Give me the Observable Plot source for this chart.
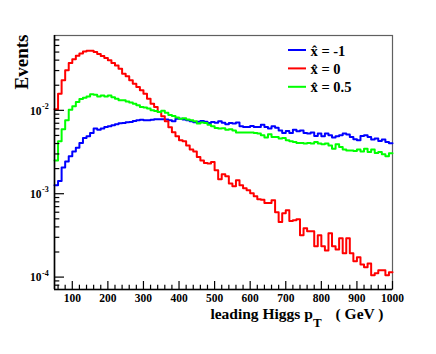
<!DOCTYPE html>
<html>
<head>
<meta charset="utf-8">
<script src="https://cdn.jsdelivr.net/npm/d3@7"></script>
<script src="https://cdn.jsdelivr.net/npm/@observablehq/plot@0.6"></script>
<style>
  html, body { margin: 0; padding: 0; background: white; }
</style>
</head>
<body>
<div id="chart"></div>
<script>
// ---- data ----
const binLow = d3.range(50, 1000, 10); // 95 bins, 10 GeV wide, 50..1000 GeV
const binEnd = 1000;
const seriesNames = ["x\u0302 = -1", "x\u0302 = 0", "x\u0302 = 0.5"];
const seriesColors = ["#0000ff", "#ff0000", "#00ff00"];

const blue = [
  0.00126, 0.00142, 0.00207, 0.00244, 0.00281, 0.00322, 0.00357, 0.00406, 0.00466, 0.00488,
  0.00535, 0.00604, 0.00587, 0.00604, 0.00631, 0.00643, 0.00661, 0.00679, 0.00698, 0.00705,
  0.00718, 0.00724, 0.00745, 0.00759, 0.00769, 0.00759, 0.00759, 0.00769, 0.00780, 0.00780,
  0.00780, 0.00775, 0.00759, 0.00738, 0.00795, 0.00791, 0.00775, 0.00759, 0.00738, 0.00718,
  0.00728, 0.00745, 0.00728, 0.00705, 0.00724, 0.00708, 0.00738, 0.00708, 0.00679, 0.00705,
  0.00693, 0.00713, 0.00643, 0.00631, 0.00631, 0.00649, 0.00631, 0.00631, 0.00674, 0.00631,
  0.00604, 0.00643, 0.00617, 0.00575, 0.00535, 0.00565, 0.00535, 0.00587, 0.00560, 0.00575,
  0.00535, 0.00526, 0.00541, 0.00492, 0.00526, 0.00488, 0.00526, 0.00501, 0.00471, 0.00488,
  0.00501, 0.00526, 0.00512, 0.00479, 0.00449, 0.00437, 0.00492, 0.00501, 0.00479, 0.00446,
  0.00458, 0.00429, 0.00446, 0.00417, 0.00402
];
const red = [
  0.0103, 0.0158, 0.0229, 0.0302, 0.0369, 0.0409, 0.0453, 0.0479, 0.0509, 0.0520,
  0.0520, 0.0500, 0.0473, 0.0448, 0.0424, 0.0398, 0.0369, 0.0344, 0.0316, 0.0275,
  0.0256, 0.0229, 0.0209, 0.0190, 0.0174, 0.0158, 0.0138, 0.0120, 0.0110, 0.00955,
  0.00847, 0.00738, 0.00625, 0.00545, 0.00488, 0.00437, 0.00425, 0.00380, 0.00340, 0.00322,
  0.00275, 0.00251, 0.00233, 0.00231, 0.00240, 0.00191, 0.00149, 0.00171, 0.00162, 0.00133,
  0.00123, 0.00145, 0.00126, 0.00116, 0.00110, 0.00101, 0.000931, 0.000857, 0.000845, 0.000773,
  0.000773, 0.000834, 0.000598, 0.000458, 0.000582, 0.000632, 0.000471, 0.000480, 0.000493, 0.000317,
  0.000385, 0.000354, 0.000354, 0.000234, 0.000317, 0.000234, 0.000209, 0.000335, 0.000234, 0.000215,
  0.000292, 0.000193, 0.000292, 0.000193, 0.000155, 0.000173, 0.000142, 0.000131, 0.000146, 0.000105,
  0.000111, 0.000121, 0.000121, 0.000105, 0.000114
];
const green = [
  0.00251, 0.00425, 0.00592, 0.00759, 0.0102, 0.0112, 0.0126, 0.0137, 0.0142, 0.0147,
  0.0156, 0.0154, 0.0147, 0.0151, 0.0147, 0.0151, 0.0144, 0.0138, 0.0132, 0.0132,
  0.0128, 0.0124, 0.0120, 0.0115, 0.0110, 0.0108, 0.0105, 0.0100, 0.00981, 0.00955,
  0.00986, 0.00933, 0.00879, 0.00855, 0.00818, 0.00795, 0.00802, 0.00775, 0.00759, 0.00738,
  0.00693, 0.00713, 0.00705, 0.00674, 0.00643, 0.00614, 0.00604, 0.00608, 0.00587, 0.00592,
  0.00575, 0.00541, 0.00541, 0.00541, 0.00541, 0.00541, 0.00535, 0.00526, 0.00501, 0.00471,
  0.00516, 0.00479, 0.00479, 0.00458, 0.00466, 0.00437, 0.00425, 0.00417, 0.00406, 0.00406,
  0.00399, 0.00406, 0.00399, 0.00417, 0.00399, 0.00391, 0.00399, 0.00380, 0.00347, 0.00391,
  0.00363, 0.00338, 0.00331, 0.00331, 0.00325, 0.00338, 0.00322, 0.00347, 0.00316, 0.00338,
  0.00308, 0.00316, 0.00297, 0.00281, 0.00305
];

const xMajor = [100, 200, 300, 400, 500, 600, 700, 800, 900, 1000];
const xMinor = d3.range(60, 1000, 20).filter(v => v % 100 !== 0);
const yMajor = [1e-4, 1e-3, 1e-2];
const yMinor = [8e-5, 9e-5,
  2e-4, 3e-4, 4e-4, 5e-4, 6e-4, 7e-4, 8e-4, 9e-4,
  2e-3, 3e-3, 4e-3, 5e-3, 6e-3, 7e-3, 8e-3, 9e-3,
  2e-2, 3e-2, 4e-2, 5e-2, 6e-2, 7e-2];
const xDomain = [50, 1000];
const yDomain = [7.1e-5, 0.079];

// ---- build rows for step histograms ----
const seriesValues = [blue, red, green];
const rows = [];
seriesValues.forEach((vals, s) => {
  vals.forEach((v, i) => rows.push({x: binLow[i], y: v, s: seriesNames[s]}));
  rows.push({x: binEnd, y: vals[vals.length - 1], s: seriesNames[s]});
});

const W = 436, H = 354, mL = 54, mR = 44, mT = 35, mB = 65;
const plotW = W - mL - mR, plotH = H - mT - mB;
const serif = "'Liberation Serif', 'Times New Roman', serif";

const legendMarks = seriesNames.map((name, i) =>
  Plot.text([name], {
    text: d => d, frameAnchor: "top-left", textAnchor: "start", lineAnchor: "middle",
    dx: 256, dy: 15.5 + i * 18.4, fontSize: 14.5, fill: "black"
  })
);

const chart = Plot.plot({
  width: W, height: H,
  marginLeft: mL, marginRight: mR, marginTop: mT, marginBottom: mB,
  style: {background: "white", fontFamily: serif, fontWeight: "bold", fontSize: "11.5px", color: "black"},
  x: {domain: xDomain, axis: null},
  y: {type: "log", domain: yDomain, axis: null},
  color: {domain: seriesNames, range: seriesColors},
  marks: [
    Plot.frame({stroke: "#606060", strokeWidth: 1.2}),
    Plot.line(rows, {x: "x", y: "y", z: "s", stroke: "s", curve: "step-after", strokeWidth: 2}),
    Plot.ruleX([xDomain[0]], {stroke: "black", strokeWidth: 1.6}),
    Plot.ruleY([yDomain[0]], {stroke: "black", strokeWidth: 1.6}),
    Plot.tickX(xMajor, {x: d => d, insetTop: plotH - 8, stroke: "black", strokeWidth: 1.2}),
    Plot.tickX(xMinor, {x: d => d, insetTop: plotH - 4.3, stroke: "black", strokeWidth: 1.2}),
    Plot.tickY(yMajor, {y: d => d, insetRight: plotW - 10, stroke: "black", strokeWidth: 1.2}),
    Plot.tickY(yMinor, {y: d => d, insetRight: plotW - 5.3, stroke: "black", strokeWidth: 1.2}),
    Plot.text(xMajor, {x: d => d, text: d => String(d), frameAnchor: "bottom", lineAnchor: "top", dy: 4, fontSize: 11.5}),
    Plot.text(yMajor, {y: d => d, text: () => "10", frameAnchor: "left", textAnchor: "end", lineAnchor: "middle", dx: -13, dy: 0.5, fontSize: 11.5}),
    Plot.text(yMajor, {y: d => d, text: d => "-" + Math.round(-Math.log10(d)), frameAnchor: "left", textAnchor: "start", lineAnchor: "middle", dx: -12.5, dy: -4, fontSize: 8}),
    Plot.text(["Events"], {text: d => d, frameAnchor: "top-left", rotate: -90, textAnchor: "end", lineAnchor: "middle", dx: -33, dy: -1, fontSize: 19}),
    Plot.text(["leading Higgs pT ( GeV )"], {text: d => d, frameAnchor: "bottom-right", textAnchor: "end", lineAnchor: "middle", dx: -9, dy: 24.2, fontSize: 15.5, className: "xtitle"}),
    ...legendMarks
  ]
});

document.getElementById("chart").appendChild(chart);

// x-axis title: subscript T
const svg = d3.select(chart);
const tt = svg.select(".xtitle text");
if (!tt.empty()) {
  tt.text(null);
  tt.append("tspan").text("leading Higgs p");
  tt.append("tspan").attr("dy", 8).attr("font-size", 13).text("T");
  tt.append("tspan").attr("dy", -8).attr("dx", 14).text("( GeV )");
}

// legend swatches
const lg = svg.append("g");
seriesColors.forEach((c, i) => {
  lg.append("line")
    .attr("x1", 288).attr("x2", 306)
    .attr("y1", 50 + i * 18.4).attr("y2", 50 + i * 18.4)
    .attr("stroke", c).attr("stroke-width", 2);
});
</script>
</body>
</html>
